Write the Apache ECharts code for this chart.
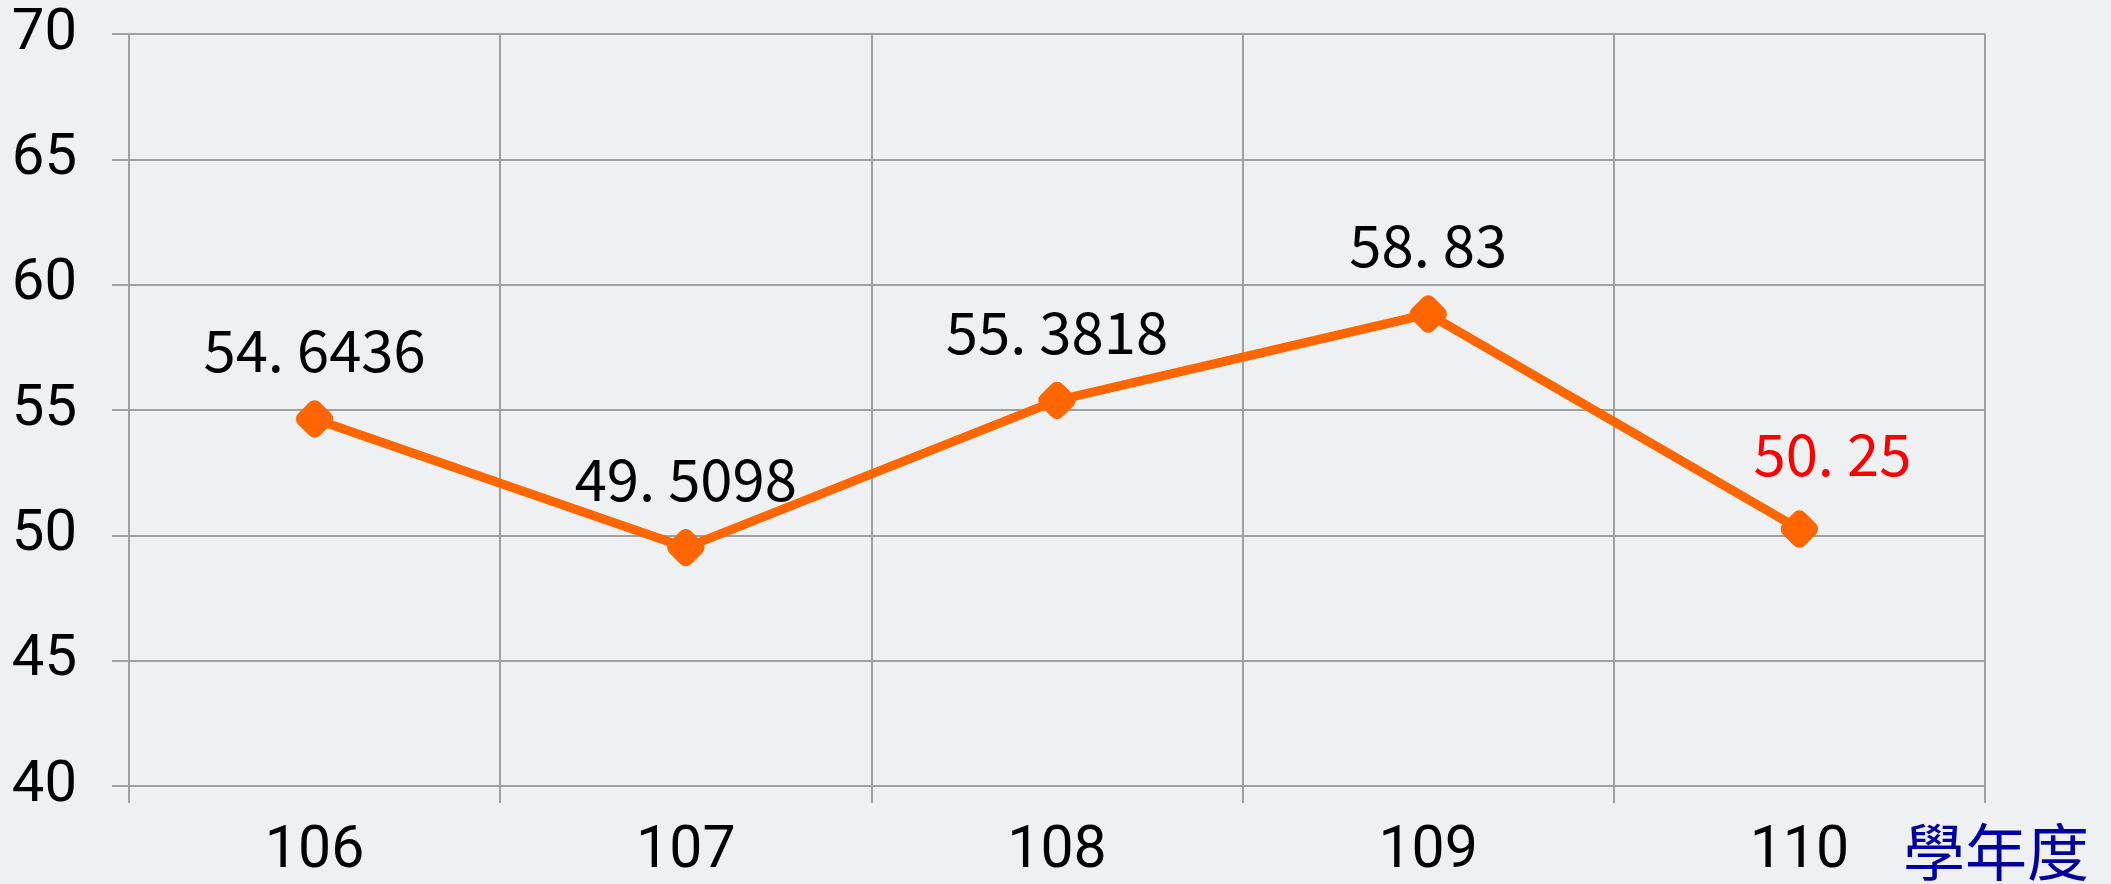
<!DOCTYPE html>
<html>
<head>
<meta charset="utf-8">
<script src="https://cdn.jsdelivr.net/npm/echarts@6/dist/echarts.min.js"></script>
<style>
html,body{margin:0;padding:0;background:#eff0f2;}
#c{width:2111px;height:884px;}
</style>
</head>
<body>
<div id="c"></div>
<script>
const categories = ['106', '107', '108', '109', '110'];
const values = [54.6436, 49.5098, 55.3818, 58.83, 50.25];
const yTicks = [40, 45, 50, 55, 60, 65, 70];
const axisName = '學年度';

const chart = echarts.init(document.getElementById('c'));
const data = values.map((v, i) => {
  const d = { value: v };
  if (i === values.length - 1) {
    d.label = { color: '#ff0000', offset: [33, -6] };
  }
  return d;
});
chart.setOption({
  backgroundColor: '#eff0f2',
  animation: false,
  grid: { left: 129, right: 126, top: 34, bottom: 98 },
  xAxis: {
    type: 'category',
    data: categories,
    boundaryGap: true,
    axisLine: { show: true, lineStyle: { color: '#a0a0a0', width: 2 } },
    axisTick: { show: true, length: 17, lineStyle: { color: '#a0a0a0', width: 2 } },
    splitLine: { show: true, lineStyle: { color: '#a0a0a0', width: 2 } },
    axisLabel: { fontSize: 59, fontFamily: 'Roboto', color: '#000', margin: 37 }
  },
  yAxis: {
    type: 'value',
    min: yTicks[0],
    max: yTicks[yTicks.length - 1],
    interval: 5,
    axisLine: { show: true, lineStyle: { color: '#a0a0a0', width: 2 } },
    axisTick: { show: true, length: 17, lineStyle: { color: '#a0a0a0', width: 2 } },
    splitLine: { show: true, lineStyle: { color: '#a0a0a0', width: 2 } },
    axisLabel: { fontSize: 58, fontFamily: 'Roboto', color: '#000', margin: 52 }
  },
  series: [{
    type: 'line',
    data: data,
    symbol: 'roundRect',
    symbolSize: 31,
    symbolRotate: 45,
    lineStyle: { color: '#ff6600', width: 9 },
    itemStyle: { color: '#ff6600' },
    label: {
      show: true,
      position: 'top',
      distance: 18,
      fontSize: 58,
      fontFamily: 'Noto Sans CJK JP',
      color: '#000',
      formatter: p => String(p.value).replace('.', '. ')
    }
  }],
  graphic: [{
    type: 'text',
    left: 1903,
    top: 821,
    style: { text: axisName, fontSize: 62, fontFamily: 'Noto Sans CJK TC', fill: '#0000a0' }
  }]
});
</script>
</body>
</html>
